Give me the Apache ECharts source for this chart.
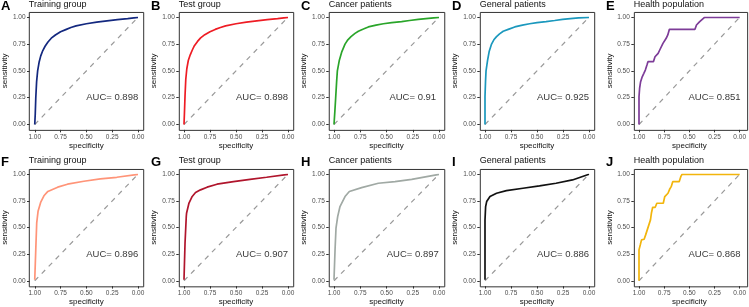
<!DOCTYPE html>
<html>
<head>
<meta charset="utf-8">
<script src="https://cdn.jsdelivr.net/npm/echarts@6/dist/echarts.min.js"></script>
<style>
  html, body { margin: 0; padding: 0; background: #fff; }
  #chart { width: 749px; height: 307px; }
</style>
</head>
<body>
<div id="chart"></div>
<script>
// panel text
var letters = ['A', 'B', 'C', 'D', 'E', 'F', 'G', 'H', 'I', 'J'];
var titles = ['Training group', 'Test group', 'Cancer patients', 'General patients', 'Health population',
              'Training group', 'Test group', 'Cancer patients', 'General patients', 'Health population'];
var aucs = ['0.898', '0.898', '0.91', '0.925', '0.851', '0.896', '0.907', '0.897', '0.886', '0.868'];

// ROC curves: [specificity, sensitivity]
var rocA = [[1,0],[0.995,0.1],[0.99,0.25],[0.982,0.4],[0.972,0.5],[0.958,0.58],[0.942,0.64],[0.922,0.69],[0.9,0.73],
  [0.872,0.77],[0.84,0.805],[0.8,0.835],[0.75,0.865],[0.7,0.885],[0.65,0.905],[0.6,0.92],[0.5,0.94],[0.4,0.955],
  [0.3,0.967],[0.2,0.978],[0.1,0.988],[0,1]];
var rocB = [[1,0],[0.996,0.1],[0.99,0.27],[0.983,0.42],[0.973,0.52],[0.958,0.6],[0.94,0.65],[0.92,0.695],[0.9,0.735],
  [0.87,0.775],[0.84,0.808],[0.8,0.838],[0.75,0.866],[0.7,0.887],[0.65,0.905],[0.6,0.92],[0.5,0.94],[0.4,0.955],
  [0.3,0.967],[0.2,0.978],[0.1,0.988],[0,1]];
var rocC = [[1,0],[0.992,0.12],[0.984,0.25],[0.975,0.4],[0.968,0.5],[0.949,0.6],[0.925,0.68],[0.895,0.75],[0.868,0.79],
  [0.838,0.82],[0.8,0.85],[0.768,0.87],[0.72,0.89],[0.673,0.91],[0.6,0.927],[0.53,0.94],[0.45,0.95],[0.356,0.96],
  [0.28,0.97],[0.197,0.98],[0.1,0.99],[0,1]];
var rocD = [[1,0],[1,0.26],[0.995,0.4],[0.99,0.5],[0.975,0.6],[0.96,0.68],[0.937,0.75],[0.915,0.79],[0.889,0.82],
  [0.86,0.845],[0.825,0.87],[0.77,0.89],[0.714,0.91],[0.64,0.927],[0.571,0.94],[0.5,0.95],[0.413,0.96],[0.33,0.97],
  [0.254,0.98],[0.18,0.988],[0.1,0.995],[0,1]];
var rocE = [[1,0],[1,0.259],[0.994,0.336],[0.984,0.399],[0.968,0.445],[0.952,0.477],[0.937,0.508],[0.921,0.555],
  [0.911,0.586],[0.857,0.586],[0.841,0.632],[0.81,0.664],[0.794,0.695],[0.762,0.757],[0.73,0.804],[0.714,0.835],
  [0.698,0.888],[0.444,0.888],[0.429,0.928],[0.397,0.96],[0.349,1],[0,1]];
var rocF = [[1,0.01],[0.99,0.295],[0.981,0.543],[0.968,0.652],[0.943,0.736],[0.911,0.798],[0.873,0.839],[0.778,0.879],
  [0.683,0.907],[0.524,0.935],[0.365,0.957],[0.206,0.972],[0,1]];
var rocG = [[1,0.01],[0.99,0.357],[0.978,0.606],[0.975,0.637],[0.952,0.73],[0.921,0.792],[0.889,0.829],[0.841,0.854],
  [0.778,0.879],[0.683,0.907],[0.524,0.932],[0.365,0.953],[0.206,0.972],[0,1]];
var rocH = [[1,0.01],[0.99,0.291],[0.981,0.494],[0.965,0.603],[0.943,0.697],[0.895,0.791],[0.854,0.838],[0.737,0.875],
  [0.578,0.916],[0.419,0.931],[0.26,0.953],[0,1]];
var rocI = [[1,0.01],[1,0.572],[0.994,0.697],[0.984,0.744],[0.952,0.791],[0.889,0.822],[0.794,0.847],[0.635,0.869],
  [0.476,0.891],[0.317,0.916],[0.159,0.947],[0,1]];
var rocJ = [[1,0],[1,0.29],[0.987,0.338],[0.975,0.384],[0.949,0.39],[0.934,0.431],[0.918,0.478],[0.902,0.525],
  [0.886,0.572],[0.877,0.634],[0.864,0.69],[0.839,0.69],[0.823,0.728],[0.759,0.728],[0.744,0.791],[0.712,0.822],
  [0.696,0.859],[0.68,0.884],[0.665,0.931],[0.601,0.931],[0.585,0.978],[0.573,1],[0,1]];
var rocs = [rocA, rocB, rocC, rocD, rocE, rocF, rocG, rocH, rocI, rocJ];
var diagonal = [[1, 0], [0, 1]];

var colors = ['#13287f', '#ee1c24', '#2aa52a', '#1b98bd', '#7d3c98',
              '#ff9478', '#b0152c', '#a0a9a4', '#111111', '#f2b50c'];

// layout (data area of each panel, pixels)
var colX = [34, 184, 334, 485, 639];
var colW = [104, 104, 105, 104, 103];
var rowY = [17.3, 174.3];
var rowH = [107.2, 106.7];

var chart = echarts.init(document.getElementById('chart'));
var grids = [], xAxes = [], yAxes = [], series = [], titleList = [], frames = [];
var font = '"Liberation Sans", Arial, sans-serif';
function fmt(v) { return v.toFixed(2); }

for (var i = 0; i < 10; i++) {
    var c = i % 5, r = Math.floor(i / 5);
    var w = colW[c], h = rowH[r];
    var padX = 0.05 * w, padY = 0.05 * h;
    grids.push({ left: colX[c], top: rowY[r], width: w, height: h });
    frames.push({
        type: 'rect', silent: true, z: 10,
        shape: { x: colX[c] - padX + 0.5, y: rowY[r] - padY + 0.5, width: w + 2 * padX, height: h + 2 * padY },
        style: { fill: null, stroke: '#333', lineWidth: 1 }
    });
    xAxes.push({
        gridIndex: i, type: 'value', min: 0, max: 1, interval: 0.25, inverse: true, offset: padY,
        name: 'specificity', nameLocation: 'middle', nameGap: 11,
        nameTextStyle: { fontFamily: font, fontSize: 8, color: '#111' },
        axisLine: { show: false, onZero: false },
        splitLine: { show: false },
        axisTick: { show: true, length: 2.5, lineStyle: { color: '#333', width: 1 } },
        axisLabel: { margin: 4, fontFamily: font, fontSize: 6.5, color: '#4d4d4d', formatter: fmt }
    });
    yAxes.push({
        gridIndex: i, type: 'value', min: 0, max: 1, interval: 0.25, offset: padX,
        name: 'sensitivity', nameLocation: 'middle', nameGap: 20,
        nameTextStyle: { fontFamily: font, fontSize: 8, color: '#111' },
        axisLine: { show: false, onZero: false },
        splitLine: { show: false },
        axisTick: { show: true, length: 2.5, lineStyle: { color: '#333', width: 1 } },
        axisLabel: { margin: 4, fontFamily: font, fontSize: 6.5, color: '#4d4d4d', formatter: fmt }
    });
    series.push({
        type: 'line', xAxisIndex: i, yAxisIndex: i, data: diagonal, symbol: 'none', silent: true,
        lineStyle: { color: '#999', width: 1.2, type: [5, 5] }, z: 1
    });
    series.push({
        type: 'line', xAxisIndex: i, yAxisIndex: i, data: rocs[i], symbol: 'none', silent: true,
        lineStyle: { color: colors[i], width: 1.7 }, z: 2
    });
    series.push({
        type: 'scatter', xAxisIndex: i, yAxisIndex: i, data: [[0.25, 0.25]], symbolSize: 1, silent: true,
        itemStyle: { color: 'rgba(255,255,255,0)' },
        label: { show: true, position: 'inside', formatter: 'AUC= ' + aucs[i],
            fontFamily: font, fontSize: 9.5, color: '#000', textBorderWidth: 0 }
    });
    titleList.push({
        text: letters[i], left: colX[c] - 33, top: r === 0 ? 0 : 156, padding: 0,
        textStyle: { fontFamily: font, fontSize: 13, fontWeight: 'bold', color: '#000' }
    });
    titleList.push({
        text: titles[i], left: colX[c] - padX, top: r === 0 ? 0 : 156, padding: 0,
        textStyle: { fontFamily: font, fontSize: 9, fontWeight: 'normal', color: '#111' }
    });
}

chart.setOption({
    animation: false,
    backgroundColor: '#fff',
    title: titleList,
    grid: grids,
    xAxis: xAxes,
    yAxis: yAxes,
    series: series,
    graphic: frames
});
</script>
</body>
</html>
